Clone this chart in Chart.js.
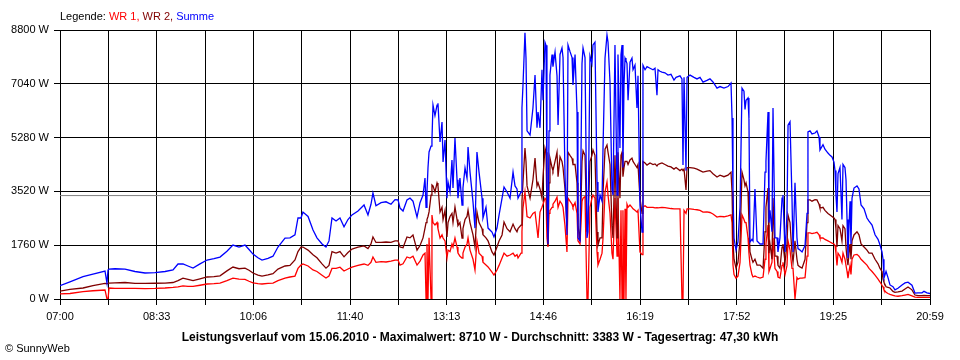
<!DOCTYPE html>
<html><head><meta charset="utf-8">
<script src="https://cdn.jsdelivr.net/npm/chart.js@4.4.1/dist/chart.umd.min.js"></script>
<style>html,body{margin:0;padding:0;background:#fff}canvas{display:block}</style>
</head><body>
<canvas id="c" width="960" height="360"></canvas>
<script>
// x-axis tick labels (every second grid line)
const tickLabels = ["07:00","08:33","10:06","11:40","13:13","14:46","16:19","17:52","19:25","20:59"];
const spanMinutes = 839;          // 07:00 .. 20:59
const gridDivisions = 18;
const yMax = 8800, yStep = 1760;
const average = 3383;

// sample times, minutes after 07:00
const minutes = [
0,9.6,22.2,31.8,43.4,45.3,46.3,47.3,53.0,62.7,72.3,82.0,91.6,101.3,109.0,113.8,118.6,123.4,128.3,135.0,141.8,148.5,154.3,161.0,166.8,172.6,178.4,182.3,186.1,190.9,194.8,200.6,205.4,210.2,217.0,221.8,226.6,229.5,232.4,234.3,239.2,244.0,247.8,252.7,256.5,259.4,262.3,266.2,270.0,273.9,277.7,281.6,287.4,293.2,297.0,299.9,301.8,304.7,309.6,314.4,319.2,323.1,326.0,
327.9,330.8,334.6,337.5,340.4,344.3,347.2,350.1,352.0,353.0,353.9,354.9,355.9,357.8,358.7,359.7,361.6,363.6,364.5,366.5,368.4,369.4,371.3,373.2,374.2,376.1,378.0,379.0,380.9,382.9,383.8,385.7,387.7,388.6,390.6,392.5,393.5,395.4,398.3,400.2,402.1,404.1,407.0,407.9,410.8,412.8,416.6,418.5,421.4,423.4,426.3,428.2,431.1,434.0,436.9,438.8,440.7,441.7,444.6,445.5,446.5,448.4,449.4,450.4,453.3,456.1,458.1,460.0,461.0,
462.9,464.8,465.8,467.7,468.7,469.6,470.6,471.6,472.5,474.5,475.4,477.4,479.3,480.3,482.2,484.1,485.1,487.0,488.9,489.9,491.8,493.8,494.7,496.7,498.6,499.5,501.5,503.4,504.4,506.3,508.2,509.2,511.1,513.0,514.0,515.9,517.9,518.8,520.8,522.7,523.7,525.6,527.5,528.5,530.4,532.3,533.3,535.2,537.2,538.1,540.0,541.0,542.0,542.9,543.9,544.9,545.8,546.8,547.8,549.7,551.6,552.6,554.5,556.4,557.4,559.3,561.3,562.2,564.2,566.1,569.0,571.9,573.8,575.7,576.7,578.6,580.5,583.4,586.3,589.2,592.1,
594.1,597.9,599.8,600.8,601.8,603.7,604.7,607.6,611.4,614.3,617.2,620.1,623.9,626.8,629.7,633.6,636.5,640.3,644.2,647.1,648.1,649.0,650.0,651.9,653.8,655.8,657.7,659.6,660.6,661.6,663.5,664.4,665.4,667.3,668.3,670.2,672.2,675.1,678.0,679.9,680.8,682.8,683.7,684.7,686.6,687.6,689.5,691.5,692.4,694.3,696.3,697.2,699.2,701.1,702.1,704.0,705.9,706.9,708.8,710.7,711.7,713.6,715.6,718.5,720.4,721.3,
723.3,725.2,728.1,730.0,732.0,732.9,735.8,737.7,740.6,742.6,744.5,746.4,747.4,748.3,749.3,750.3,752.2,754.1,755.1,757.0,758.0,759.0,759.9,760.9,761.9,762.8,763.8,765.7,768.6,770.5,772.5,775.4,778.2,780.2,783.1,786.0,788.9,790.8,792.7,793.7,794.6,796.6,798.5,800.4,803.3,805.2,808.1,812.0,814.9,817.8,821.6,824.5,827.4,831.3,833.2,836.1,839.0
];

// Summe (W)
const summe = [
435,560,730,815,915,520,950,980,990,980,900,850,860,900,950,1145,1150,1080,1010,1150,1275,1320,1370,1560,1765,1700,1765,1620,1470,1350,1275,1330,1400,1700,1995,2000,2100,2650,2650,2845,2700,2255,2000,1800,1700,1900,2650,2550,2650,2360,2600,2750,2880,3075,2750,3100,3465,3050,3150,3180,3100,3250,3240,
2975,2880,3240,3300,3200,2680,3150,3400,3955,3000,3500,4300,4810,5000,5200,6345,6000,6345,6400,5135,5790,4480,5200,3300,3825,3500,4545,3630,5265,3900,3300,3955,3075,3630,4285,3955,4970,4150,3170,2320,4810,4150,3300,2650,3000,2320,2190,2030,2320,2745,3300,3665,3500,3300,4150,3700,3600,3300,3500,6250,7000,8710,7880,5500,5365,6250,7325,5600,6115,
5600,7500,6500,8400,8300,3500,1800,5500,7325,8000,7600,8080,7300,5690,8000,8210,7900,4055,2095,8310,8100,7900,7000,8000,6115,2000,1900,7700,8210,7900,1995,2200,7950,7700,8310,8400,3830,2845,3400,3200,5000,7880,8635,8400,7100,3600,3400,8310,3400,8000,4940,8000,8310,4300,7000,7880,7800,7700,6500,7750,7880,7500,7650,6250,7300,3075,2190,7650,7500,7600,7550,7500,7550,6670,7500,7450,7425,7400,7325,7350,7160,
7250,7300,7200,4380,7250,4200,7250,7325,7250,7200,7250,7095,7150,7200,7100,6900,6950,6900,6950,7065,5920,3500,1995,1600,1865,3000,6900,6800,6200,6500,6575,5900,1865,1950,1900,3600,1900,1800,1800,4150,4500,6115,2500,2900,2200,6250,2000,2000,1540,2000,3300,3400,1540,2800,5690,5800,3300,1540,3800,2000,1650,1600,1540,1750,2800,5465,
5500,5400,5430,5500,5300,4875,5050,4900,4775,4700,4645,4480,4200,3400,2845,4100,4300,2600,4400,4300,3900,2600,1340,2400,3200,1800,3300,3630,3700,3600,3075,2950,2650,2550,2420,2100,1950,1765,1540,1300,685,900,700,460,400,300,350,460,525,550,450,195,200,200,250,200,180
];

// WR 2 (W)
const wr2 = [
260,315,360,435,510,500,510,520,530,540,510,510,515,520,540,600,680,640,600,660,720,730,760,920,1045,990,1010,940,850,780,750,790,830,980,1080,1100,1275,1550,1700,1700,1600,1450,1350,1150,1010,1100,1550,1500,1550,1380,1520,1635,1700,1735,1650,1800,2030,1850,1850,1865,1850,1900,1900,
1700,1680,2030,2000,2095,1600,1750,2000,2320,2500,2600,2700,2850,3400,3730,3700,3500,3795,3700,2845,3000,2600,2900,2030,2500,2700,2800,2500,3010,2600,2400,2500,1995,2300,2600,2700,2910,2500,2100,1700,2845,2500,2300,2100,2000,1900,1540,1440,1700,1900,2095,2520,2300,2200,2450,2300,2200,2300,2420,3200,3830,4940,4500,3700,3300,3900,4610,3700,3800,
3600,3300,4000,4940,4800,3000,1765,3800,4610,4300,4200,4500,4800,4000,4650,4500,4300,3600,2400,4800,4700,4600,4400,4400,3800,2420,1900,4500,4850,4700,2200,2500,4500,4700,4875,4700,2190,1765,2000,2000,3500,4900,5035,4800,4400,2400,2000,4700,2000,4800,3300,4700,4800,4000,4300,4500,4500,4500,4400,4550,4610,4500,4400,4300,4400,3300,2800,4500,4450,4380,4450,4400,4420,4350,4400,4430,4450,4400,4350,4320,4250,
4300,4200,4250,4200,4250,3565,4300,4300,4280,4250,4200,4150,4180,4200,4100,3990,4050,4000,4050,4150,3500,1865,1300,1010,1200,1900,4150,3900,3700,3800,3500,2500,1540,1300,1200,1300,1110,1110,1010,2200,3000,3630,1500,1800,1300,3300,1400,1400,1100,1010,1700,1800,1200,1800,2745,2500,1500,1200,1900,1300,1100,1050,1010,1300,2500,3240,
3240,3200,3250,3240,3100,2975,3000,2900,2800,2750,2700,2650,2600,2300,1700,2400,2300,1900,2400,2300,1700,1300,1110,1500,1800,1300,1900,2095,2200,2100,1800,1700,1600,1500,1500,1300,1150,1000,900,650,550,400,380,360,250,220,230,260,330,395,300,130,110,110,120,110,110
];

// WR 1 (W)
const wr1 = [
165,180,240,270,295,0,0,360,350,350,350,340,345,360,380,400,430,410,410,450,490,500,520,600,685,650,640,580,525,500,490,510,520,600,685,720,750,1000,1110,1145,1080,950,900,780,685,750,1000,1000,1040,915,980,1045,1100,1145,1100,1200,1375,1200,1220,1210,1240,1275,1275,
1110,1150,1375,1340,1400,1110,1240,1440,1500,0,1800,0,2000,0,2745,2500,2420,2500,2300,1995,2100,1995,1900,1340,1600,1550,1800,1700,1995,1700,1500,1400,1340,1500,1700,1800,1995,1600,1300,950,1900,1500,1400,1200,1110,1050,880,785,950,1100,1340,1500,1400,1440,1500,1400,1450,1340,1500,2200,2975,3500,3100,2700,2650,2800,2845,2300,1995,
2845,3000,3100,3300,3250,2000,1700,2800,2900,3000,3100,3200,3335,3000,3200,3100,3000,2400,1540,3300,3200,3100,3000,3150,2800,1900,1800,3200,3300,3350,0,0,3000,3300,3400,3300,1540,1110,1300,1500,2000,3500,3830,3400,2800,1500,1300,3300,1400,3300,0,2900,0,2900,0,2950,0,3100,3000,3075,3000,2950,2900,2845,2900,1540,1450,3010,3050,3000,3000,3000,2980,2990,2980,2990,3000,2990,2975,2960,2950,
2950,2950,0,0,2900,2800,2950,2950,2930,2920,2900,2845,2850,2830,2780,2680,2700,2690,2720,2750,2500,1110,800,685,750,1200,2750,2600,2500,2500,2000,1500,1110,800,720,750,720,685,720,1300,1800,2420,900,1000,1200,2000,1000,900,720,685,1100,1200,800,1100,1900,1600,1000,1000,0,700,650,685,685,700,1400,2160,
2160,2140,2160,2180,2100,1995,2000,1950,1900,1865,1830,1800,1750,1500,1100,1500,1400,1200,1500,1300,1100,900,685,900,1100,800,1300,1440,1460,1400,1300,1200,1110,1000,900,780,650,555,450,400,300,220,180,150,120,100,90,110,130,150,100,60,50,50,50,50,50
];

const legendParts = [["Legende: ", "#000000"], ["WR 1, ", "#ff0000"], ["WR 2, ", "#800000"], ["Summe", "#0000ff"]];
const footerText = "Leistungsverlauf vom 15.06.2010 - Maximalwert: 8710 W - Durchschnitt: 3383 W - Tagesertrag: 47,30 kWh";
const copyrightText = "\u00A9 SunnyWeb";

const FONT = '"Liberation Sans", Arial, sans-serif';
const toPoints = arr => arr.map((v, i) => ({ x: minutes[i], y: v }));

const textPlugin = {
  id: 'texts',
  afterDraw(chart) {
    const ctx = chart.ctx;
    ctx.save();
    ctx.textBaseline = 'alphabetic';
    ctx.font = '11px ' + FONT;
    ctx.textAlign = 'left';
    let x = 60;
    for (const [t, c] of legendParts) {
      ctx.fillStyle = c;
      ctx.fillText(t, x, 20);
      x += ctx.measureText(t).width;
    }
    ctx.font = 'bold 12px ' + FONT;
    ctx.fillStyle = '#000';
    ctx.textAlign = 'center';
    ctx.fillText(footerText, 480, 341);
    ctx.font = '11px ' + FONT;
    ctx.textAlign = 'left';
    ctx.fillText(copyrightText, 5, 352);
    ctx.restore();
  }
};

new Chart(document.getElementById('c'), {
  type: 'line',
  data: {
    datasets: [
      { label: 'Summe', data: toPoints(summe), borderColor: '#0000ff', order: 1 },
      { label: 'WR 2', data: toPoints(wr2), borderColor: '#800000', order: 2 },
      { label: 'WR 1', data: toPoints(wr1), borderColor: '#ff0000', order: 3 },
      { label: 'Durchschnitt', data: [{ x: 0, y: average }, { x: spanMinutes, y: average }], borderColor: '#808080', borderWidth: 1, order: 4 }
    ]
  },
  options: {
    responsive: false,
    animation: false,
    events: [],
    datasets: { line: { borderWidth: 1.3, pointRadius: 0, tension: 0, fill: false } },
    layout: { padding: { left: 0, top: 30, right: 30, bottom: 36 } },
    plugins: { legend: { display: false }, tooltip: { enabled: false }, title: { display: false } },
    scales: {
      x: {
        type: 'linear', min: 0, max: spanMinutes,
        afterBuildTicks(axis) {
          axis.ticks = Array.from({ length: gridDivisions + 1 }, (_, i) => ({ value: i * spanMinutes / gridDivisions }));
        },
        afterFit(axis) { axis.height = 25; },
        grid: { color: '#000', lineWidth: 1, tickLength: 6, tickColor: '#000' },
        border: { color: '#000', width: 1 },
        ticks: {
          autoSkip: false, maxRotation: 0, padding: 5, color: '#000',
          font: { family: FONT, size: 11 },
          callback: (v, i) => (i % 2 === 0 ? tickLabels[i / 2] : '')
        }
      },
      y: {
        min: 0, max: yMax,
        afterFit(axis) { axis.width = 60; },
        grid: { color: '#000', lineWidth: 1, tickLength: 6, tickColor: '#000' },
        border: { color: '#000', width: 1 },
        ticks: {
          stepSize: yStep, padding: 5, color: '#000',
          font: { family: FONT, size: 11 },
          callback: v => v + ' W'
        }
      }
    }
  },
  plugins: [textPlugin]
});
</script>
</body></html>
